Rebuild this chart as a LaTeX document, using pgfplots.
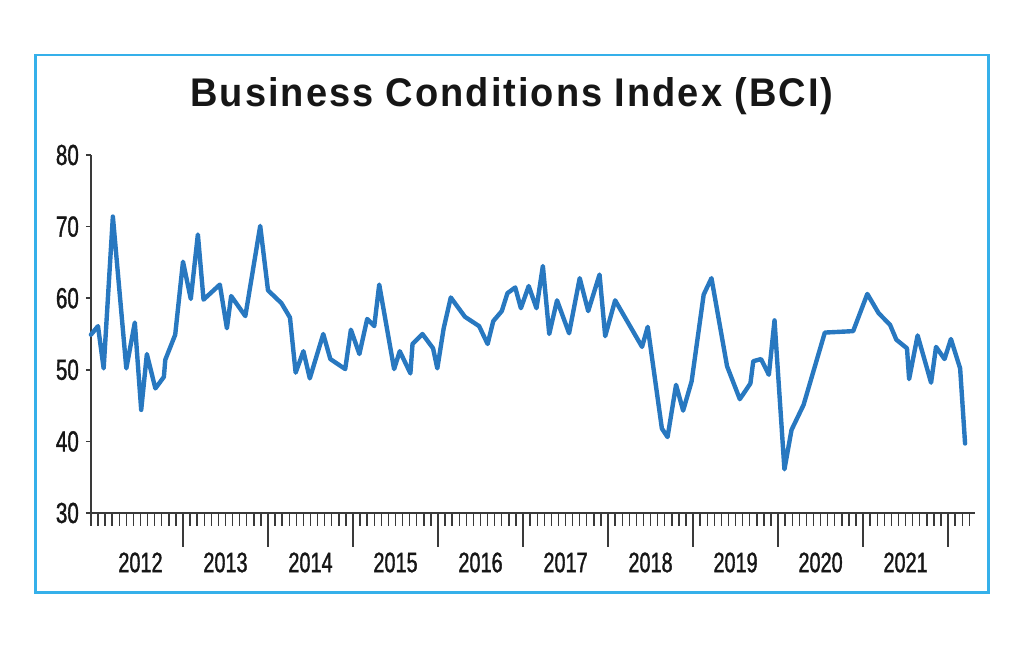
\documentclass[border=0pt]{standalone}
\usepackage{pgfplots}
\pgfplotsset{compat=1.18}
\usepackage{fontspec}
\setmainfont{Liberation Sans}
\newfontfamily\condfont{Liberation Sans}[FakeStretch=0.71, FakeBold=1.2]
\newfontfamily\titlefont{Liberation Sans}[LetterSpace=5, FakeStretch=0.95]

\definecolor{bciblue}{HTML}{2878C0}
\definecolor{framecol}{HTML}{35B0EA}
\definecolor{axisgrey}{HTML}{3A3A3A}
\definecolor{labelcol}{HTML}{161616}

% Monthly index readings; x = months since Jan 2012 (0 = Jan 2012)
\pgfplotstableread{
t v
-1.0 54.9
0.0 56.1
0.8 50.2
2.1 71.4
4.0 50.2
5.2 56.6
6.1 44.4
6.9 52.2
8.1 47.4
9.3 49.0
9.5 51.4
10.9 54.9
12.0 65.1
13.1 59.9
14.1 68.9
14.9 59.8
17.2 61.9
18.2 55.8
18.8 60.3
20.8 57.5
22.9 70.1
24.0 61.1
25.9 59.3
27.1 57.3
27.9 49.6
29.0 52.6
29.9 48.8
31.8 55.0
32.8 51.5
34.9 50.1
35.7 55.6
36.9 52.2
38.0 57.1
39.0 56.1
39.7 61.9
41.8 50.1
42.6 52.6
44.1 49.5
44.4 53.6
45.8 55.0
47.3 53.0
47.9 50.2
48.8 55.8
49.8 60.1
51.8 57.4
53.8 56.1
55.0 53.6
55.8 56.8
57.0 58.2
57.8 60.7
58.9 61.5
59.7 58.6
60.8 61.7
61.9 58.6
62.8 64.5
63.7 55.0
64.8 59.7
66.5 55.1
68.0 62.8
69.2 58.2
70.8 63.3
71.6 54.7
73.0 59.7
76.8 53.2
77.6 56.0
79.6 41.8
80.4 40.6
81.6 47.9
82.6 44.3
83.8 48.4
85.5 60.5
86.6 62.8
88.8 50.5
90.6 45.9
92.1 48.1
92.5 51.2
93.6 51.5
94.7 49.3
95.5 56.9
96.9 36.1
97.9 41.6
99.6 45.1
102.6 55.2
106.6 55.4
108.6 60.6
110.2 57.9
111.8 56.3
112.7 54.2
114.2 53.0
114.5 48.7
115.7 54.8
117.6 48.2
118.3 53.2
119.5 51.5
120.4 54.3
121.7 50.2
122.4 39.7
}\bcidata

\begin{document}
\begin{tikzpicture}
\path[use as bounding box] (0,0) rectangle (512pt,324pt);
% frame
\draw[framecol, line width=1.4pt] (17.85pt,27.85pt) rectangle (494.15pt,296.5pt);
% title
\node[anchor=base, text=labelcol, inner sep=0pt] at (256pt,270.65pt)
  {\titlefont\fontsize{20pt}{22pt}\selectfont\bfseries Business Conditions Index (BCI)};

\begin{axis}[
  at={(45.45pt,67.5pt)}, anchor=south west,
  scale only axis, width=442.05pt, height=179pt,
  xmin=-1, xmax=123.8, ymin=30, ymax=80,
  axis lines=left,
  axis line style={-, draw=axisgrey, line width=1pt},
  tick align=outside,
  /pgf/number format/assume math mode=true,
  % long ticks at the year boundaries
  xtick={12,24,36,48,60,72,84,96,108,120},
  xticklabels={},
  major tick length=17pt,
  every tick/.style={draw=axisgrey, line width=0.85pt},
  % one short tick per month
  minor xtick={-1,0,...,123},
  minor tick length=6.5pt,
  every minor tick/.style={draw=axisgrey, line width=0.7pt},
  % year names centred between boundaries
  extra x ticks={6,18,30,42,54,66,78,90,102,114},
  extra x tick labels={2012,2013,2014,2015,2016,2017,2018,2019,2020,2021},
  extra x tick style={major tick length=0pt,
    tick label style={anchor=center, yshift=-24.75pt,
      font=\condfont\fontsize{14pt}{15pt}\selectfont, text=labelcol}},
  ytick=\empty,
  extra y ticks={30,40,50,60,70,80},
  extra y tick labels={30,40,50,60,70,80},
  extra y tick style={major tick length=2.5pt,
    tick label style={font=\condfont\fontsize{14.5pt}{15pt}\selectfont, text=labelcol}},
  clip=false,
]
\addplot[bciblue, line width=2.2pt, line join=round, line cap=round] table[x=t, y=v] {\bcidata};
\end{axis}
\end{tikzpicture}
\end{document}
